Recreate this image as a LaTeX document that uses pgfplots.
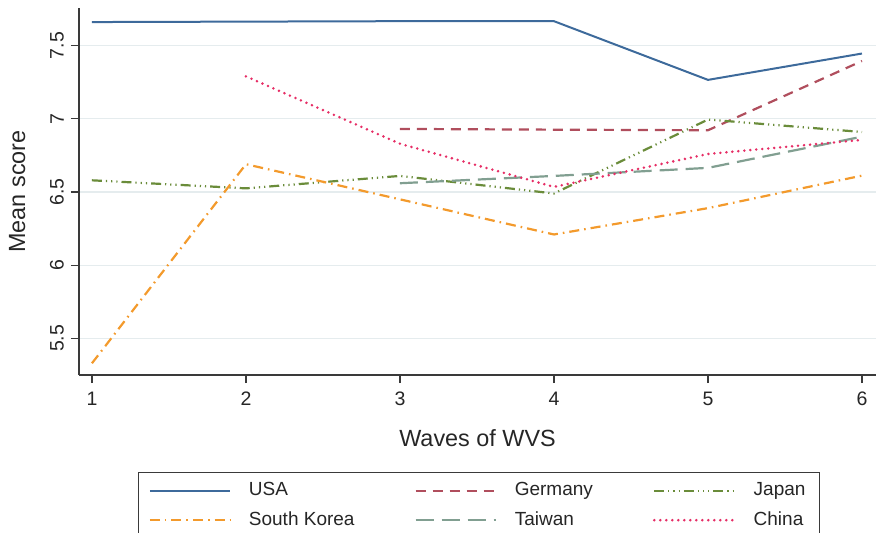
\documentclass[border=0pt]{standalone}
\usepackage{fontspec}
\setmainfont{Liberation Sans}
\usepackage{pgfplots}
\pgfplotsset{compat=1.18}
\definecolor{cusa}{HTML}{3D6A9B}
\definecolor{cger}{HTML}{B04E5D}
\definecolor{cjap}{HTML}{6A8C3A}
\definecolor{csk}{HTML}{F39A2C}
\definecolor{ctw}{HTML}{819F91}
\definecolor{cchn}{HTML}{E62E66}
\definecolor{gridc}{HTML}{E5ECEE}
\definecolor{axc}{HTML}{3A3A3A}
\begin{document}
\begin{tikzpicture}
\begin{axis}[
  scale only axis,
  width=398.5pt, height=183.5pt,
  xmin=0.916, xmax=6.091,
  ymin=5.25, ymax=7.757,
  axis x line=bottom, axis y line=left,
  axis line style={-, color=axc, line width=0.7pt},
  xtick={1,2,3,4,5,6},
  ytick={5.5,6,6.5,7,7.5},
  yticklabels={5.5,6,6.5,7,7.5},
  tick align=outside,
  major tick length=4pt,
  tick style={color=axc, line width=0.6pt},
  ymajorgrids,
  grid style={gridc, line width=0.6pt},
  /pgf/number format/assume math mode=true,
  ticklabel style={font=\fontsize{9.75}{11.7}\selectfont, text=black!85},
  xticklabel style={yshift=-1pt},
  yticklabel style={rotate=90, anchor=south},
  xlabel={Waves of WVS},
  ylabel={Mean score},
  label style={font=\fontsize{11.7}{14}\selectfont, text=black!85},
  xlabel style={yshift=-5pt},
  ylabel style={yshift=5.5pt},
  legend columns=3,
  legend style={at={(0.502,-0.264)}, anchor=north, draw=axc, line width=0.6pt,
    font=\fontsize{9.5}{11.4}\selectfont, text=black!85,
    inner xsep=5pt, inner ysep=3pt,
    /tikz/every odd column/.append style={column sep=7pt},
    /tikz/every even column/.append style={column sep=28pt},
    row sep=2.5pt},
  legend cell align=left,
  legend image code/.code={\draw[#1] (0pt,0pt) -- (40pt,0pt);},
]
\coordinate (ll) at (rel axis cs:0,0);
\coordinate (ur) at (rel axis cs:1,1);
\addplot[cusa, line width=1pt] coordinates {(1,7.661)(2,7.664)(3,7.667)(4,7.667)(5,7.266)(6,7.446)};
\addlegendentry{USA}
\addplot[cger, line width=1.1pt, dash pattern=on 5pt off 3.5pt] coordinates {(3,6.931)(4,6.926)(5,6.922)(6,7.395)};
\addlegendentry{Germany}
\addplot[cjap, line width=1.1pt, dash pattern=on 5pt off 2pt on 0.6pt off 2pt on 0.6pt off 2pt on 0.6pt off 2pt] coordinates {(1,6.58)(2,6.525)(3,6.61)(4,6.49)(5,6.995)(6,6.91)};
\addlegendentry{Japan}
\addplot[csk, line width=1.1pt, dash pattern=on 5pt off 2.5pt on 0.8pt off 2.5pt] coordinates {(1,5.33)(2,6.69)(3,6.45)(4,6.21)(5,6.39)(6,6.612)};
\addlegendentry{South Korea}
\addplot[ctw, line width=1.1pt, dash pattern=on 9pt off 4pt] coordinates {(3,6.56)(4,6.61)(5,6.665)(6,6.878)};
\addlegendentry{Taiwan}
\addplot[cchn, line width=1.4pt, line cap=round, dash pattern=on 0pt off 3pt] coordinates {(2,7.29)(3,6.83)(4,6.535)(5,6.76)(6,6.856)};
\addlegendentry{China}
\end{axis}
\pgfresetboundingbox
\path ([xshift=-39.5pt,yshift=-78.5pt]ll) rectangle ([yshift=4pt]ur);
\end{tikzpicture}
\end{document}
